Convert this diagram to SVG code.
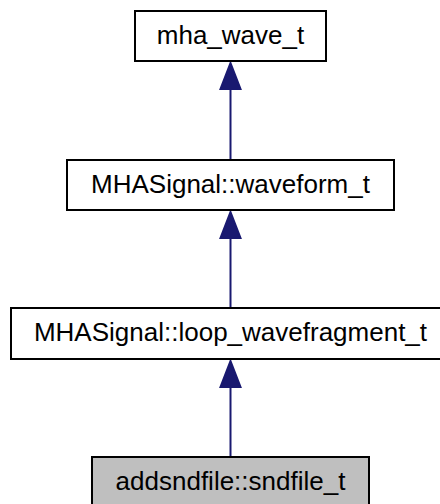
<svg xmlns="http://www.w3.org/2000/svg" width="440" height="504" viewBox="0 0 440 504">
<style>
.box{fill:#ffffff;stroke:#000000;stroke-width:2}
.cur{fill:#bfbfbf}
.lbl{font-family:"Liberation Sans",Arial,sans-serif;font-size:26px;fill:#000000;text-anchor:middle}
.edge{stroke:#191970;stroke-width:2;fill:none}
.head{fill:#191970;stroke:#191970;stroke-width:2}
</style>
<rect width="440" height="504" fill="#ffffff"/>
<g id="connectors">
<path class="edge" d="M230.5,90 V160"/>
<polygon class="head" points="230.5,63 240.5,89 220.5,89"/>
<path class="edge" d="M230.5,239 V308"/>
<polygon class="head" points="230.5,212 240.5,238 220.5,238"/>
<path class="edge" d="M230.5,387 V457"/>
<polygon class="head" points="230.5,361 240.5,387 220.5,387"/>
</g>
<g id="node_mha_wave_t">
<rect class="box" x="135" y="11" width="191" height="50"/>
<text class="lbl" x="230.5" y="44">mha_wave_t</text>
</g>
<g id="node_waveform_t">
<rect class="box" x="67" y="160" width="327" height="50"/>
<text class="lbl" x="230.5" y="193">MHASignal::waveform_t</text>
</g>
<g id="node_loop_wavefragment_t">
<rect class="box" x="11" y="308" width="439" height="51"/>
<text class="lbl" x="230.5" y="341">MHASignal::loop_wavefragment_t</text>
</g>
<g id="node_sndfile_t">
<rect class="box cur" x="92" y="457" width="277" height="50"/>
<text class="lbl" x="230.5" y="490">addsndfile::sndfile_t</text>
</g>
</svg>
